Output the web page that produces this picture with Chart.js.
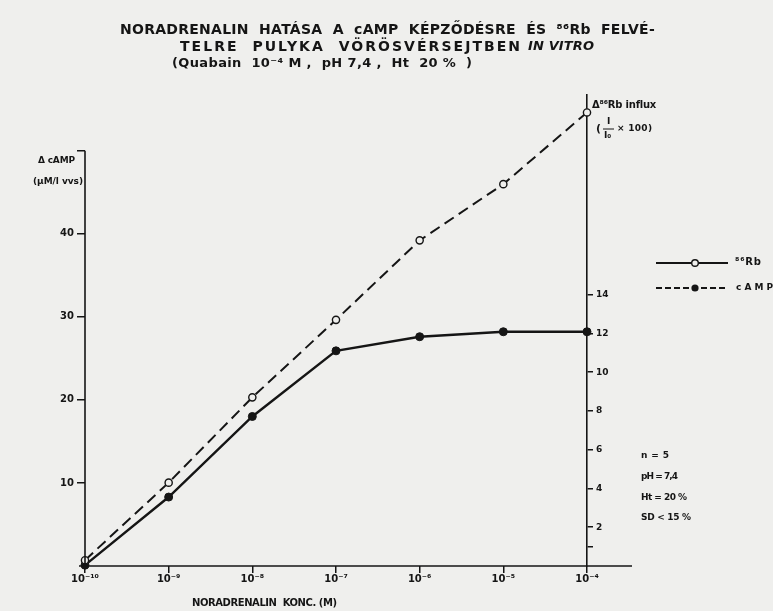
<!DOCTYPE html>
<html><head><meta charset="utf-8">
<script src="https://cdn.jsdelivr.net/npm/chart.js@4/dist/chart.umd.min.js"></script>
<style>html,body{margin:0;padding:0;background:#efefed;}#wrap{width:773px;height:611px;}</style>
</head><body><div id="wrap"><canvas id="c" width="773" height="611"></canvas></div>
<script>
// ---- data ----
const concentrations = ['10⁻¹⁰', '10⁻⁹', '10⁻⁸', '10⁻⁷', '10⁻⁶', '10⁻⁵', '10⁻⁴'];
const rbInflux = [0.3, 4.3, 8.7, 12.7, 16.8, 19.7, 23.4];     // Δ86Rb influx (I/I0 x 100), right axis
const campValues = [0.1, 8.3, 18.0, 25.9, 27.6, 28.2, 28.2];  // Δ cAMP (µM/l vvs), left axis
const leftTicks = [10, 20, 30, 40, 50];
const rightTicks = [1, 2, 4, 6, 8, 10, 12, 14];
const titleLine1 = 'NORADRENALIN  HATÁSA  A  cAMP  KÉPZŐDÉSRE  ÉS  ⁸⁶Rb  FELVÉ-';
const titleLine2a = 'TELRE  PULYKA  VÖRÖSVÉRSEJTBEN';
const titleLine2b = 'IN VITRO';
const titleLine3 = '(Quabain  10⁻⁴ M ,  pH 7,4 ,  Ht  20 %  )';
const leftAxisTitle = ['Δ cAMP', '(µM/l vvs)'];
const rightAxisTitle = 'Δ⁸⁶Rb influx';
const xAxisTitle = 'NORADRENALIN  KONC. (M)';
const legendLabels = ['⁸⁶Rb', 'cAMP'];
const notes = ['n = 5', 'pH = 7,4', 'Ht = 20 %', 'SD < 15 %'];

const INK = '#151515';
const PAPER = '#efefed';
const FONT = '"DejaVu Sans", "Liberation Sans", sans-serif';

function fitText(ctx, text, x, y, width, font) {
  ctx.font = font;
  ctx.letterSpacing = '0px';
  const w = ctx.measureText(text).width;
  const n = [...text].length;
  if (width && n > 1) {
    const ls = (width - w) / (n - 1);
    ctx.letterSpacing = ls.toFixed(2) + 'px';
  }
  ctx.fillText(text, x, y);
  ctx.letterSpacing = '0px';
}

const decor = {
  id: 'decor',
  afterDraw(chart) {
    const ctx = chart.ctx;
    const ca = chart.chartArea;
    const yL = chart.scales.y;
    ctx.save();
    ctx.strokeStyle = INK; ctx.fillStyle = INK;
    ctx.lineWidth = 1.6;
    // left axis line (only up to value 50)
    ctx.beginPath();
    ctx.moveTo(ca.left, yL.getPixelForValue(leftTicks[leftTicks.length - 1]));
    ctx.lineTo(ca.left, ca.bottom + 3);
    ctx.stroke();
    // x axis line extending past the right axis
    ctx.beginPath();
    ctx.moveTo(ca.left - 6, ca.bottom);
    ctx.lineTo(ca.right + 45, ca.bottom);
    ctx.stroke();

    ctx.textBaseline = 'middle';
    ctx.textAlign = 'left';
    // title
    fitText(ctx, titleLine1, 120, 30, 535, 'bold 14px ' + FONT);
    fitText(ctx, titleLine2a, 180, 47, 340, 'bold 14px ' + FONT);
    fitText(ctx, titleLine2b, 528, 47, 66, 'italic bold 13px ' + FONT);
    fitText(ctx, titleLine3, 172, 64, 300, 'bold 13px ' + FONT);

    // left axis title
    fitText(ctx, leftAxisTitle[0], 38, 161, 37, 'bold 9px ' + FONT);
    fitText(ctx, leftAxisTitle[1], 33, 182, 50, 'bold 9px ' + FONT);

    // right axis title
    fitText(ctx, rightAxisTitle, 592, 105, 64, 'bold 10px ' + FONT);
    ctx.font = 'bold 11px ' + FONT;
    ctx.fillText('(', 596, 129);
    ctx.font = 'bold 9px ' + FONT;
    ctx.fillText('I', 607, 122);
    ctx.fillText('I₀', 604, 136);
    ctx.lineWidth = 1;
    ctx.beginPath(); ctx.moveTo(603, 129); ctx.lineTo(614, 129); ctx.stroke();
    fitText(ctx, '× 100)', 617, 129, 35, 'bold 9px ' + FONT);

    // x axis title
    fitText(ctx, xAxisTitle, 192, 603, 145, 'bold 10px ' + FONT);

    // legend (styles as printed in the figure)
    const lx0 = 656, lx1 = 728, lcx = 695;
    const ly = [263, 288];
    ctx.lineWidth = 1.8;
    ctx.setLineDash([]);
    ctx.beginPath(); ctx.moveTo(lx0, ly[0]); ctx.lineTo(lx1, ly[0]); ctx.stroke();
    ctx.beginPath(); ctx.arc(lcx, ly[0], 3.3, 0, Math.PI * 2);
    ctx.fillStyle = PAPER; ctx.fill(); ctx.lineWidth = 1.4; ctx.stroke();
    ctx.fillStyle = INK;
    ctx.lineWidth = 1.8;
    ctx.setLineDash([6, 3]);
    ctx.beginPath(); ctx.moveTo(lx0, ly[1]); ctx.lineTo(lx1, ly[1]); ctx.stroke();
    ctx.setLineDash([]);
    ctx.beginPath(); ctx.arc(lcx, ly[1], 3.6, 0, Math.PI * 2); ctx.fill();
    fitText(ctx, legendLabels[0], 735, ly[0] - 1, 26, 'bold 10px ' + FONT);
    fitText(ctx, legendLabels[1], 736, ly[1], 37, 'bold 9px ' + FONT);

    // notes
    const ny = [456, 477, 498, 518];
    const nw = [28, 37, 46, 50];
    notes.forEach((t, i) => fitText(ctx, t, 641, ny[i], nw[i], 'bold 9px ' + FONT));
    ctx.restore();
  }
};

new Chart(document.getElementById('c'), {
  type: 'line',
  data: {
    labels: concentrations,
    datasets: [
      {
        label: '⁸⁶Rb', data: rbInflux, yAxisID: 'y1',
        borderColor: INK, borderWidth: 2, borderDash: [11, 6],
        pointRadius: 3.6, pointBackgroundColor: PAPER, pointBorderColor: INK, pointBorderWidth: 1.4,
        tension: 0, clip: false
      },
      {
        label: 'cAMP', data: campValues, yAxisID: 'y',
        borderColor: INK, borderWidth: 2.4,
        pointRadius: 4, pointBackgroundColor: INK, pointBorderColor: INK, pointBorderWidth: 1,
        tension: 0, clip: false
      }
    ]
  },
  options: {
    responsive: false,
    devicePixelRatio: 1,
    animation: false,
    layout: { padding: { top: 95, left: 0, right: 0, bottom: 0 } },
    plugins: { legend: { display: false }, tooltip: { enabled: false }, title: { display: false } },
    scales: {
      x: {
        type: 'category', offset: false,
        grid: { display: true, drawOnChartArea: false, drawTicks: true, tickLength: 7, color: INK, lineWidth: 1.5 },
        border: { display: false },
        ticks: { color: INK, font: { size: 10, weight: 'bold', family: FONT }, padding: 0, maxRotation: 0, autoSkip: false },
        afterFit(s) { s.height = 45; }
      },
      y: {
        position: 'left', min: 0, max: 56.7,
        afterBuildTicks(s) { s.ticks = leftTicks.map(v => ({ value: v })); },
        grid: { display: true, drawOnChartArea: false, drawTicks: true, tickLength: 8, color: INK, lineWidth: 1.5 },
        border: { display: false },
        ticks: { color: INK, font: { size: 10, weight: 'bold', family: FONT }, padding: 3,
          callback: v => (v === 50 ? '' : v) },
        afterFit(s) { s.width = 85; }
      },
      y1: {
        position: 'right', min: 0, max: 24.3,
        afterBuildTicks(s) { s.ticks = rightTicks.map(v => ({ value: v })); },
        grid: { display: true, drawOnChartArea: false, drawTicks: true, tickLength: 6, color: INK, lineWidth: 1.5 },
        border: { display: true, color: INK, width: 1.6 },
        ticks: { color: INK, font: { size: 9, weight: 'bold', family: FONT }, padding: 3,
          callback: v => (v === 1 ? '' : v) },
        afterFit(s) { s.width = 186; }
      }
    }
  },
  plugins: [decor]
});
</script>
</body></html>
